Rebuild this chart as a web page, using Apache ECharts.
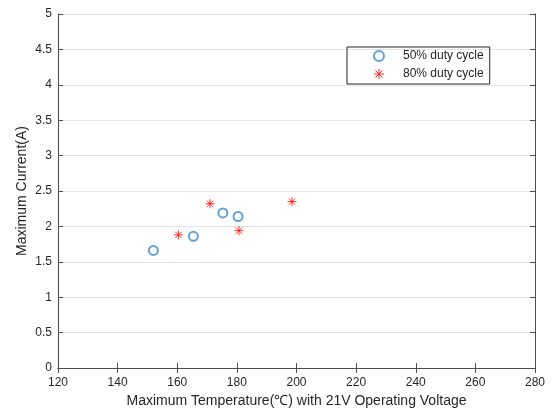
<!DOCTYPE html>
<html>
<head>
<meta charset="utf-8">
<script src="https://cdn.jsdelivr.net/npm/echarts@6/dist/echarts.min.js"></script>
<style>
  html, body { margin: 0; padding: 0; background: #fff; }
  #main { width: 558px; height: 410px; }
</style>
</head>
<body>
<div id="main"></div>
<script>
// values
var duty50Temp = [152.0, 165.4, 175.3, 180.4];
var duty50Current = [1.66, 1.86, 2.19, 2.14];
var duty80Temp = [160.4, 171.0, 180.7, 198.5];
var duty80Current = [1.88, 2.32, 1.94, 2.35];
var seriesNames = ['50% duty cycle', '80% duty cycle'];

function pairs(xs, ys) {
    var out = [];
    for (var i = 0; i < xs.length; i++) out.push([xs[i], ys[i]]);
    return out;
}

var axisColor = '#4d4d4d';
var font = 'Liberation Sans, Arial, sans-serif';
// asterisk made of strokes
var starPath = 'path://M0,5L10,5M5,0L5,10M1.5,1.5L8.5,8.5M1.5,8.5L8.5,1.5';
// ticks point into the plot
function tick() {
    return { show: true, inside: true, length: 5, lineStyle: { color: axisColor } };
}

var myChart = echarts.init(document.getElementById('main'));
var option = {
    animation: false,
    grid: { left: 58, right: 23, top: 14, bottom: 42, outerBoundsMode: 'none', containLabel: false },
    legend: {
        orient: 'vertical',
        left: 347, top: 47,
        data: [
            { name: seriesNames[0], icon: 'emptyCircle', itemStyle: { borderWidth: 1.4 } },
            { name: seriesNames[1], icon: starPath, itemStyle: { borderWidth: 1 } }
        ],
        itemWidth: 10, itemHeight: 10, itemGap: 4,
        padding: [2, 6, 3, 26],
        borderColor: '#262626', borderWidth: 1,
        textStyle: { fontFamily: font, fontSize: 12, color: '#262626', lineHeight: 14, padding: [0, 0, 0, 14] }
    },
    xAxis: [{
        type: 'value', min: 120, max: 280, interval: 20,
        name: 'Maximum Temperature(℃) with 21V Operating Voltage',
        nameLocation: 'middle', nameGap: 26, nameMoveOverlap: false,
        nameTextStyle: { fontFamily: font, fontSize: 14, color: '#262626' },
        axisLine: { onZero: false, lineStyle: { color: axisColor } },
        axisTick: tick(),
        axisLabel: { fontFamily: font, fontSize: 12, color: '#262626', margin: 9 },
        splitLine: { show: false }
    }, {
        type: 'value', position: 'top', min: 120, max: 280, interval: 20,
        axisLine: { show: true, lineStyle: { color: axisColor } },
        axisTick: tick(),
        axisLabel: { show: false },
        splitLine: { show: false }
    }],
    yAxis: [{
        type: 'value', min: 0, max: 5, interval: 0.5,
        name: 'Maximum Current(A)',
        nameLocation: 'middle', nameGap: 29, nameMoveOverlap: false,
        nameTextStyle: { fontFamily: font, fontSize: 14, color: '#262626' },
        axisLine: { show: true, onZero: false, lineStyle: { color: axisColor } },
        axisTick: tick(),
        axisLabel: { fontFamily: font, fontSize: 12, color: '#262626', margin: 6 },
        splitLine: { show: true, lineStyle: { color: '#e3e3e3', width: 1 } }
    }, {
        type: 'value', position: 'right', min: 0, max: 5, interval: 0.5,
        axisLine: { show: true, lineStyle: { color: axisColor } },
        axisTick: tick(),
        axisLabel: { show: false },
        splitLine: { show: false }
    }],
    series: [{
        name: seriesNames[0],
        type: 'scatter',
        symbol: 'emptyCircle',
        symbolSize: 9,
        itemStyle: { color: '#3a8ccc', borderColor: '#3a8ccc', borderWidth: 1.4 },
        data: pairs(duty50Temp, duty50Current)
    }, {
        name: seriesNames[1],
        type: 'scatter',
        symbol: starPath,
        symbolSize: 9,
        itemStyle: { color: '#ff0000', borderColor: '#ff0000', borderWidth: 1 },
        data: pairs(duty80Temp, duty80Current)
    }]
};
myChart.setOption(option);
</script>
</body>
</html>
